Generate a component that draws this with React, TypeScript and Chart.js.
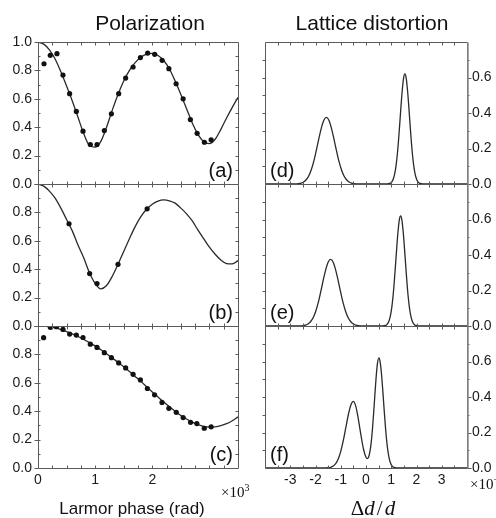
import React, { useEffect, useRef } from 'react';
import { Chart, registerables } from 'chart.js';

Chart.register(...registerables);

// ---------------- data ----------------
// Polarization (left column), Larmor phase in units of 10^3 rad
const fitX = [0, 0.1, 0.2, 0.3, 0.4, 0.5, 0.6, 0.7, 0.8, 0.9, 1.0, 1.1, 1.2, 1.3, 1.4, 1.5, 1.6, 1.7, 1.8, 1.9, 2.0, 2.1, 2.2, 2.3, 2.4, 2.5, 2.6, 2.7, 2.8, 2.9, 3.0, 3.1, 3.2, 3.3, 3.4, 3.5];
const fitA = [1.0, 0.985, 0.945, 0.88, 0.79, 0.69, 0.585, 0.47, 0.355, 0.272, 0.26, 0.3, 0.4, 0.52, 0.63, 0.725, 0.8, 0.855, 0.893, 0.915, 0.92, 0.905, 0.87, 0.81, 0.725, 0.63, 0.53, 0.43, 0.35, 0.298, 0.285, 0.315, 0.385, 0.465, 0.54, 0.61];
const fitB = [1.0, 0.985, 0.95, 0.9, 0.83, 0.75, 0.67, 0.57, 0.48, 0.375, 0.3, 0.262, 0.285, 0.35, 0.434, 0.525, 0.615, 0.7, 0.77, 0.822, 0.858, 0.88, 0.888, 0.882, 0.865, 0.83, 0.79, 0.74, 0.675, 0.615, 0.555, 0.505, 0.465, 0.44, 0.437, 0.46];
const fitC = [1.0, 0.999, 0.995, 0.986, 0.975, 0.961, 0.945, 0.926, 0.905, 0.883, 0.86, 0.833, 0.805, 0.775, 0.745, 0.713, 0.68, 0.645, 0.61, 0.572, 0.535, 0.5, 0.465, 0.432, 0.4, 0.37, 0.345, 0.323, 0.305, 0.293, 0.288, 0.29, 0.298, 0.312, 0.333, 0.36];

const dotsAX = [0.105, 0.215, 0.332, 0.437, 0.554, 0.671, 0.788, 0.916, 1.033, 1.161, 1.284, 1.412, 1.534, 1.664, 1.792, 1.919, 2.042, 2.172, 2.29, 2.417, 2.54, 2.667, 2.785, 2.912, 3.03];
const dotsAY = [0.847, 0.906, 0.918, 0.767, 0.636, 0.511, 0.372, 0.278, 0.278, 0.376, 0.494, 0.636, 0.746, 0.824, 0.89, 0.922, 0.913, 0.871, 0.812, 0.706, 0.6, 0.454, 0.357, 0.294, 0.311];

const dotsBX = [0.543, 0.904, 1.033, 1.4, 1.91];
const dotsBY = [0.72, 0.369, 0.299, 0.434, 0.825];

const dotsCX = [0.098, 0.215, 0.324, 0.437, 0.554, 0.671, 0.788, 0.916, 1.033, 1.161, 1.284, 1.412, 1.534, 1.664, 1.792, 1.914, 2.04, 2.17, 2.29, 2.42, 2.54, 2.67, 2.78, 2.91, 3.03];
const dotsCY = [0.918, 0.991, 0.995, 0.976, 0.943, 0.936, 0.919, 0.872, 0.849, 0.812, 0.777, 0.74, 0.705, 0.66, 0.62, 0.56, 0.515, 0.462, 0.42, 0.392, 0.355, 0.322, 0.313, 0.28, 0.29];

// Lattice distortion (right column), Δd/d in units of 10^-3 : [x, y]
const distD: [number, number][] = [[-4, 0], [-2.87, 0], [-2.77, 0.001], [-2.67, 0.002], [-2.57, 0.005], [-2.47, 0.011], [-2.37, 0.024], [-2.27, 0.045], [-2.17, 0.079], [-2.07, 0.127], [-1.97, 0.188], [-1.87, 0.254], [-1.77, 0.315], [-1.67, 0.359], [-1.57, 0.375], [-1.47, 0.359], [-1.37, 0.315], [-1.27, 0.254], [-1.17, 0.188], [-1.07, 0.127], [-0.97, 0.079], [-0.87, 0.045], [-0.77, 0.024], [-0.67, 0.011], [-0.57, 0.005], [-0.47, 0.002], [-0.27, 0], [0.84, 0], [0.94, 0.003], [0.99, 0.0075], [1.04, 0.016], [1.09, 0.032], [1.14, 0.06], [1.19, 0.104], [1.24, 0.166], [1.29, 0.249], [1.34, 0.346], [1.39, 0.446], [1.44, 0.535], [1.49, 0.598], [1.54, 0.62], [1.59, 0.598], [1.64, 0.535], [1.69, 0.446], [1.74, 0.346], [1.79, 0.249], [1.84, 0.166], [1.89, 0.104], [1.94, 0.06], [1.99, 0.032], [2.04, 0.016], [2.09, 0.0075], [2.14, 0.003], [2.24, 0], [4, 0]];
const distE: [number, number][] = [[-4, 0], [-2.7, 0], [-2.6, 0.001], [-2.5, 0.002], [-2.4, 0.005], [-2.3, 0.011], [-2.2, 0.024], [-2.1, 0.045], [-2.0, 0.079], [-1.9, 0.127], [-1.8, 0.188], [-1.7, 0.254], [-1.6, 0.315], [-1.5, 0.359], [-1.4, 0.375], [-1.3, 0.359], [-1.2, 0.315], [-1.1, 0.254], [-1.0, 0.188], [-0.9, 0.127], [-0.8, 0.079], [-0.7, 0.045], [-0.6, 0.024], [-0.5, 0.011], [-0.4, 0.005], [-0.3, 0.002], [-0.1, 0], [0.67, 0], [0.77, 0.003], [0.82, 0.0075], [0.87, 0.016], [0.92, 0.032], [0.97, 0.06], [1.02, 0.104], [1.07, 0.166], [1.12, 0.249], [1.17, 0.346], [1.22, 0.446], [1.27, 0.535], [1.32, 0.598], [1.37, 0.62], [1.42, 0.598], [1.47, 0.535], [1.52, 0.446], [1.57, 0.346], [1.62, 0.249], [1.67, 0.166], [1.72, 0.104], [1.77, 0.06], [1.82, 0.032], [1.87, 0.016], [1.92, 0.0075], [1.97, 0.003], [2.07, 0], [4, 0]];
const distF: [number, number][] = [[-4, 0], [-1.7, 0], [-1.5, 0.0015], [-1.4, 0.004], [-1.3, 0.011], [-1.2, 0.025], [-1.1, 0.051], [-1.0, 0.094], [-0.9, 0.154], [-0.8, 0.227], [-0.7, 0.3], [-0.6, 0.355], [-0.5, 0.375], [-0.4, 0.346], [-0.3, 0.273], [-0.2, 0.185], [-0.1, 0.107], [0, 0.06], [0.05, 0.053], [0.1, 0.061], [0.15, 0.088], [0.2, 0.136], [0.25, 0.21], [0.3, 0.304], [0.35, 0.408], [0.4, 0.509], [0.45, 0.585], [0.51, 0.62], [0.56, 0.598], [0.61, 0.535], [0.66, 0.446], [0.71, 0.346], [0.76, 0.249], [0.81, 0.166], [0.86, 0.104], [0.91, 0.06], [0.96, 0.032], [1.01, 0.016], [1.06, 0.0075], [1.11, 0.003], [1.21, 0], [4, 0]];

// tick labels
const polXLabels = [0, 1, 2, 3];
const latXLabels = [-3, -2, -1, 0, 1, 2, 3];
const polYLabelsTop = [0, 0.2, 0.4, 0.6, 0.8, 1.0];
const polYLabels = [0, 0.2, 0.4, 0.6, 0.8];
const latYLabels = [0, 0.2, 0.4, 0.6];

// minor tick positions
const polXMinor = [0.25, 0.5, 0.75, 1, 1.25, 1.5, 1.75, 2, 2.25, 2.5, 2.75, 3, 3.25];
const latXMinor = [-3.5, -3, -2.5, -2, -1.5, -1, -0.5, 0, 0.5, 1, 1.5, 2, 2.5, 3, 3.5];
const polYMinor = [0.1, 0.2, 0.3, 0.4, 0.5, 0.6, 0.7, 0.8, 0.9];
const latYMinor = [0.1, 0.2, 0.3, 0.4, 0.5, 0.6, 0.7];

// ---------------- layout ----------------
const CW = 496;
const CH = 518;
const ROWS = [42, 184, 326, 468];
const COLS = [
  { left: 38, right: 238 },
  { left: 265, right: 467 },
];
const XH = 30; // height reserved for x tick labels
const FONT = "'Liberation Sans', Arial, Helvetica, sans-serif";
const SERIF = "'Liberation Serif', 'Times New Roman', serif";

type Pt = { x: number; y: number };
type Panel = { key: string; col: 0 | 1; row: 0 | 1 | 2; letter: string; curve: Pt[]; dots?: Pt[] };

const zip = (xs: number[], ys: number[]): Pt[] => xs.map((x, i) => ({ x, y: ys[i] }));
const pairs = (ps: [number, number][]): Pt[] => ps.map(([x, y]) => ({ x, y }));

const panels: Panel[] = [
  { key: 'a', col: 0, row: 0, letter: '(a)', curve: zip(fitX, fitA), dots: zip(dotsAX, dotsAY) },
  { key: 'b', col: 0, row: 1, letter: '(b)', curve: zip(fitX, fitB), dots: zip(dotsBX, dotsBY) },
  { key: 'c', col: 0, row: 2, letter: '(c)', curve: zip(fitX, fitC), dots: zip(dotsCX, dotsCY) },
  { key: 'd', col: 1, row: 0, letter: '(d)', curve: pairs(distD) },
  { key: 'e', col: 1, row: 1, letter: '(e)', curve: pairs(distE) },
  { key: 'f', col: 1, row: 2, letter: '(f)', curve: pairs(distF) },
];

const near = (list: number[], v: number) => list.some((t) => Math.abs(t - v) < 1e-6);

function framePlugin(p: Panel) {
  const isLeft = p.col === 0;
  return {
    id: 'frame_' + p.key,
    afterDatasetsDraw(chart: any) {
      const { ctx, chartArea: a } = chart;
      const xs = chart.scales.x;
      const ys = chart.scales.y;
      const T = Math.round(a.top) + 0.5;
      const B = Math.round(a.bottom) + 0.5;
      const L = Math.round(a.left) + 0.5;
      const R = Math.round(a.right) + 0.5;
      ctx.save();
      ctx.strokeStyle = '#5a5a5a';
      ctx.lineWidth = 1;
      ctx.beginPath();
      const seg = (x1: number, y1: number, x2: number, y2: number) => {
        ctx.moveTo(x1, y1);
        ctx.lineTo(x2, y2);
      };
      const xMinor = isLeft ? polXMinor : latXMinor;
      const yMinor = isLeft ? polYMinor : latYMinor;
      const yMajor = isLeft ? polYLabelsTop : latYLabels;
      for (const v of xMinor) {
        const px = Math.round(xs.getPixelForValue(v)) + 0.5;
        seg(px, T, px, T + 3);
        seg(px, B, px, B - 3);
      }
      for (const v of yMinor) {
        const py = Math.round(ys.getPixelForValue(v)) + 0.5;
        if (isLeft) {
          seg(R, py, R - 3, py);
          seg(L, py, L + 2, py);
        } else {
          seg(L, py, L - 3, py);
          seg(R, py, R + 2, py);
        }
      }
      for (const v of yMajor) {
        const py = Math.round(ys.getPixelForValue(v)) + 0.5;
        if (isLeft) seg(L, py, L - 4, py);
        else seg(R, py, R + 4, py);
      }
      ctx.stroke();
      // frame
      ctx.beginPath();
      ctx.rect(L, T, R - L, B - T);
      ctx.stroke();
      if (!isLeft) {
        ctx.strokeStyle = '#8a8a8a';
        ctx.lineWidth = 1.5;
        ctx.beginPath();
        seg(R + 0.5, T, R + 0.5, B);
        ctx.stroke();
      }
      // panel letter
      ctx.fillStyle = '#111';
      ctx.font = `20px ${FONT}`;
      ctx.textBaseline = 'middle';
      if (isLeft) {
        ctx.textAlign = 'right';
        ctx.fillText(p.letter, a.right - 5, a.bottom - 12.5);
      } else {
        ctx.textAlign = 'left';
        ctx.fillText(p.letter, a.left + 5, a.bottom - 12.5);
      }
      ctx.restore();
    },
  };
}

function makeConfig(p: Panel): any {
  const isLeft = p.col === 0;
  const c = COLS[p.col];
  const top = ROWS[p.row];
  const bottom = ROWS[p.row + 1];
  const isBottom = p.row === 2;
  const yLabels = isLeft ? (p.row === 0 ? polYLabelsTop : polYLabels) : latYLabels;
  const xLabels = isBottom ? (isLeft ? polXLabels : latXLabels) : [];
  const datasets: any[] = [
    {
      data: p.curve,
      borderColor: '#2a2a2a',
      borderWidth: 1.3,
      pointRadius: 0,
      cubicInterpolationMode: 'monotone',
      fill: false,
      order: 1,
    },
  ];
  if (p.dots) {
    datasets.push({
      data: p.dots,
      showLine: false,
      pointRadius: 2.6,
      pointBackgroundColor: '#111',
      pointBorderWidth: 0,
      order: 0,
    });
  }
  const tickFont = { family: FONT, size: 14 };
  return {
    type: 'line',
    data: { datasets },
    options: {
      animation: false,
      responsive: false,
      events: [],
      layout: {
        padding: {
          left: isLeft ? 0 : c.left,
          right: isLeft ? CW - c.right : 0,
          top,
          bottom: CH - bottom - XH,
        },
      },
      plugins: { legend: { display: false }, tooltip: { enabled: false }, title: { display: false } },
      scales: {
        x: {
          type: 'linear',
          position: 'bottom',
          min: isLeft ? 0 : -4,
          max: isLeft ? 3.5 : 4,
          grid: { display: false, drawTicks: false },
          border: { display: false },
          ticks: {
            display: isBottom,
            stepSize: 1,
            autoSkip: false,
            maxRotation: 0,
            padding: 4,
            color: '#1a1a1a',
            font: tickFont,
            callback: (v: number) => (near(xLabels, v) ? String(Math.round(v)) : ''),
          },
          afterFit: (s: any) => {
            s.height = XH;
          },
        },
        y: {
          type: 'linear',
          position: isLeft ? 'left' : 'right',
          min: 0,
          max: isLeft ? 1 : 0.8,
          grid: { display: false, drawTicks: false },
          border: { display: false },
          ticks: {
            stepSize: 0.2,
            autoSkip: false,
            padding: isLeft ? 6 : 5,
            color: '#1a1a1a',
            font: tickFont,
            callback: (v: number) => (near(yLabels, v) ? v.toFixed(1) : ''),
          },
          afterFit: (s: any) => {
            s.width = isLeft ? c.left : CW - c.right;
          },
        },
      },
    },
    plugins: [framePlugin(p)],
  };
}

export default function App() {
  const refs = useRef<(HTMLCanvasElement | null)[]>([]);

  useEffect(() => {
    const charts: Chart[] = [];
    panels.forEach((p, i) => {
      const cv = refs.current[i];
      if (cv) charts.push(new Chart(cv, makeConfig(p)));
    });
    return () => charts.forEach((ch) => ch.destroy());
  }, []);

  const text = (extra: React.CSSProperties): React.CSSProperties => ({
    position: 'absolute',
    whiteSpace: 'nowrap',
    color: '#111',
    ...extra,
  });

  return (
    <div
      style={{
        position: 'fixed',
        left: 0,
        top: 0,
        width: CW,
        height: CH,
        background: '#fff',
        overflow: 'hidden',
      }}
    >
      {panels.map((p, i) => (
        <canvas
          key={p.key}
          ref={(el) => {
            refs.current[i] = el;
          }}
          width={CW}
          height={CH}
          style={{ position: 'absolute', left: 0, top: 0, width: CW, height: CH }}
        />
      ))}
      <div style={text({ left: 150, top: 12, transform: 'translateX(-50%)', font: `21px ${FONT}`, lineHeight: '21px' })}>
        Polarization
      </div>
      <div style={text({ left: 372, top: 12, transform: 'translateX(-50%)', font: `21px ${FONT}`, lineHeight: '21px' })}>
        Lattice distortion
      </div>
      <div style={text({ left: 132, top: 500, transform: 'translateX(-50%)', font: `17px ${FONT}`, lineHeight: '17px' })}>
        Larmor phase (rad)
      </div>
      <div style={text({ left: 373, top: 498, transform: 'translateX(-50%)', font: `21px ${SERIF}`, lineHeight: '21px' })}>
        Δ<i>d</i>
        <span style={{ margin: '0 2px' }}>/</span>
        <i>d</i>
      </div>
      <div style={text({ left: 221, top: 485, font: `15px ${SERIF}`, lineHeight: '15px' })}>
        ×10
        <span style={{ fontSize: 10, position: 'relative', top: -6 }}>3</span>
      </div>
      <div style={text({ left: 470, top: 477, font: `15px ${SERIF}`, lineHeight: '15px' })}>
        ×10
        <span style={{ fontSize: 10, position: 'relative', top: -6 }}>−3</span>
      </div>
    </div>
  );
}
